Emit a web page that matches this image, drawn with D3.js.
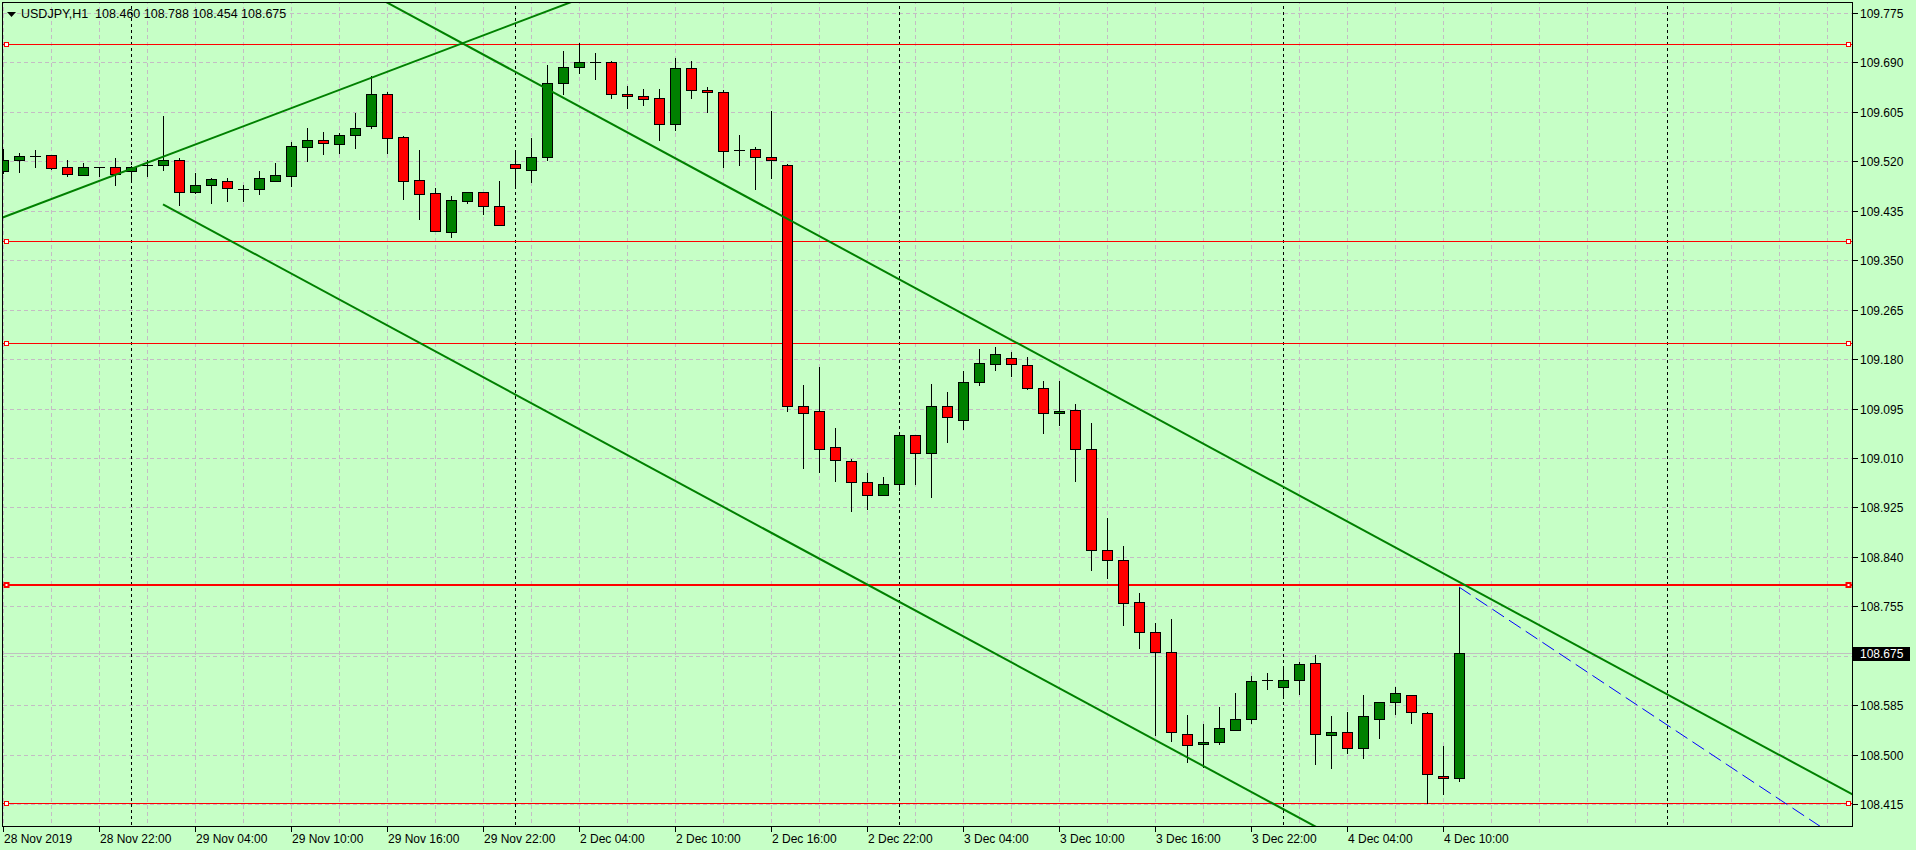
<!DOCTYPE html>
<html><head><meta charset="utf-8">
<script src="https://cdn.jsdelivr.net/npm/d3@7"></script>
<style>html,body{margin:0;padding:0;background:#c6ffc6;overflow:hidden}text{font-family:"Liberation Sans",Arial,sans-serif;font-size:12px;white-space:pre}</style>
</head><body><svg id="c" width="1916" height="850"></svg>
<script>
// ---- data (USDJPY H1, bar index 0 = 28 Nov 2019 16:00) ----
const symbolTitle = "USDJPY,H1";
const opens  = [109.503,109.523,109.529,109.530,109.510,109.496,109.511,109.510,109.503,109.513,
                109.514,109.523,109.468,109.480,109.487,109.472,109.472,109.487,109.495,109.544,
                109.556,109.549,109.565,109.580,109.635,109.561,109.488,109.465,109.398,109.451,
                109.467,109.444,109.515,109.505,109.527,109.654,109.683,109.691,109.690,109.635,
                109.632,109.628,109.584,109.680,109.642,109.639,109.540,109.541,109.527,109.513,
                109.100,109.090,109.028,109.004,108.968,108.947,108.966,109.049,109.018,109.099,
                109.075,109.140,109.171,109.181,109.169,109.131,109.087,109.092,109.025,108.851,
                108.834,108.762,108.710,108.676,108.536,108.518,108.521,108.542,108.561,108.628,
                108.617,108.628,108.657,108.533,108.538,108.512,108.562,108.591,108.603,108.571,
                108.464,108.460];
const highs  = [109.541,109.534,109.539,109.530,109.522,109.517,109.511,109.525,109.512,109.522,
                109.598,109.526,109.500,109.491,109.492,109.479,109.503,109.517,109.553,109.577,
                109.570,109.569,109.603,109.666,109.639,109.564,109.539,109.474,109.460,109.467,
                109.468,109.486,109.536,109.560,109.686,109.710,109.723,109.707,109.692,109.649,
                109.644,109.645,109.698,109.692,109.648,109.642,109.566,109.544,109.607,109.515,
                109.135,109.166,109.061,109.009,108.984,108.978,109.051,109.049,109.137,109.123,
                109.159,109.197,109.200,109.192,109.183,109.143,109.143,109.102,109.070,108.907,
                108.859,108.778,108.727,108.733,108.568,108.553,108.582,108.606,108.635,108.640,
                108.652,108.660,108.672,108.567,108.574,108.602,108.591,108.617,108.603,108.574,
                108.514,108.788];
const lows   = [109.500,109.502,109.511,109.507,109.495,109.496,109.495,109.480,109.490,109.495,
                109.505,109.445,109.465,109.449,109.451,109.452,109.463,109.487,109.478,109.521,
                109.533,109.535,109.543,109.578,109.535,109.456,109.421,109.400,109.390,109.449,
                109.430,109.411,109.478,109.485,109.523,109.635,109.671,109.662,109.629,109.611,
                109.617,109.557,109.574,109.629,109.605,109.511,109.513,109.473,109.492,109.090,
                108.993,108.985,108.971,108.918,108.922,108.947,108.955,108.966,108.943,109.038,
                109.060,109.135,109.162,109.151,109.128,109.053,109.067,108.971,108.818,108.804,
                108.723,108.684,108.534,108.524,108.488,108.478,108.518,108.542,108.555,108.612,
                108.600,108.604,108.483,108.477,108.502,108.494,108.529,108.569,108.555,108.416,
                108.433,108.454];
const closes = [109.522,109.529,109.529,109.509,109.498,109.511,109.511,109.499,109.510,109.514,
                109.522,109.468,109.480,109.489,109.474,109.472,109.491,109.496,109.546,109.556,
                109.551,109.566,109.578,109.635,109.560,109.486,109.463,109.400,109.453,109.467,
                109.444,109.411,109.508,109.527,109.654,109.683,109.690,109.691,109.635,109.632,
                109.627,109.585,109.680,109.642,109.639,109.537,109.540,109.527,109.523,109.100,
                109.087,109.026,109.006,108.968,108.947,108.966,109.049,109.018,109.099,109.080,
                109.140,109.173,109.188,109.171,109.130,109.088,109.091,109.025,108.851,108.834,
                108.760,108.710,108.677,108.538,108.516,108.521,108.545,108.561,108.626,108.628,
                108.628,108.655,108.535,108.538,108.512,108.566,108.591,108.605,108.573,108.466,
                108.460,108.675];
const timeTickIndex  = [0,6,12,18,24,30,36,42,48,54,60,66,72,78,84,90];
const timeTickLabels = ["28 Nov 2019","28 Nov 22:00","29 Nov 04:00","29 Nov 10:00","29 Nov 16:00",
                        "29 Nov 22:00","2 Dec 04:00","2 Dec 10:00","2 Dec 16:00","2 Dec 22:00",
                        "3 Dec 04:00","3 Dec 10:00","3 Dec 16:00","3 Dec 22:00","4 Dec 04:00","4 Dec 10:00"];
const daySeparatorIndex = [8,32,56,80,104];
const priceTickLabels = ["109.775","109.690","109.605","109.520","109.435","109.350","109.265","109.180",
                         "109.095","109.010","108.925","108.840","108.755","108.670","108.585","108.500","108.415"];
const levelPrices = [109.722,109.383,109.207,108.792,108.416];
const levelThick  = [false,false,false,true,false];
// trend lines: [startIndex, startPrice, endIndex, endPrice]
const lineAscending  = [0, 109.4235, 35.36, 109.7922];
const lineUpper      = [24, 109.793, 91, 108.797];
const lineLower      = [10, 109.446, 91, 108.243];
const lineProjection = [91, 108.788, 113, 108.387];
const lastPrice = 108.675;

// ---- drawing ----
const W = 1916, H = 850;
const plotL = 3, plotR = 1852, plotT = 3, plotB = 826;
const svg = d3.select("#c");
svg.append("rect").attr("width", W).attr("height", H).attr("fill", "#c6ffc6");

const x = d3.scaleLinear().domain([0, 115]).range([3, 3 + 16 * 115]);
const y = d3.scaleLinear().domain([109.775, 108.415]).range([13, 804]);
const yc = v => Math.round(y(v)) + 0.5;
const xc = k => Math.round(x(k)) + 0.5;

svg.append("defs").append("clipPath").attr("id", "plot")
  .append("rect").attr("x", plotL).attr("y", plotT).attr("width", plotR - plotL).attr("height", plotB - plotT);

const plot = svg.append("g").attr("clip-path", "url(#plot)");
const gridColor = "#c4bcc4";

// horizontal grid
const priceTicks = priceTickLabels.map(Number);
plot.append("g").selectAll("line").data(priceTicks).join("line")
  .attr("x1", plotL).attr("x2", plotR).attr("y1", d => yc(d)).attr("y2", d => yc(d))
  .attr("stroke", gridColor).attr("stroke-dasharray", "4,3");
// vertical grid every 3 bars
const vgrid = d3.range(0, 116, 3);
plot.append("g").selectAll("line").data(vgrid).join("line")
  .attr("x1", d => xc(d)).attr("x2", d => xc(d)).attr("y1", 0).attr("y2", plotB)
  .attr("stroke", gridColor).attr("stroke-dasharray", "4,3");
// bid line
plot.append("line").attr("x1", plotL).attr("x2", plotR).attr("y1", yc(lastPrice)).attr("y2", yc(lastPrice))
  .attr("stroke", "#c0c0c0");
// day separators
plot.append("g").selectAll("line").data(daySeparatorIndex).join("line")
  .attr("x1", d => xc(d)).attr("x2", d => xc(d)).attr("y1", 0).attr("y2", plotB)
  .attr("stroke", "#000").attr("stroke-dasharray", "3,3");

// horizontal levels
const lv = plot.append("g");
levelPrices.forEach((p, i) => {
  const yy = levelThick[i] ? Math.round(y(p)) : yc(p);
  lv.append("line").attr("x1", plotL).attr("x2", plotR).attr("y1", yy).attr("y2", yy)
    .attr("stroke", "#ff0000").attr("stroke-width", levelThick[i] ? 2 : 1);
});

// candles
const bars = d3.range(opens.length).map(i => ({i, o: opens[i], h: highs[i], l: lows[i], c: closes[i]}));
const cg = plot.append("g");
cg.selectAll("line.w").data(bars).join("line").attr("class", "w")
  .attr("x1", d => xc(d.i)).attr("x2", d => xc(d.i))
  .attr("y1", d => Math.round(y(d.h))).attr("y2", d => Math.round(y(d.l)) + 1)
  .attr("stroke", "#000");
bars.forEach(d => {
  const top = Math.round(y(Math.max(d.o, d.c)));
  const bot = Math.round(y(Math.min(d.o, d.c)));
  const cx = Math.round(x(d.i));
  if (bot - top < 2) {
    cg.append("line").attr("x1", cx - 5).attr("x2", cx + 6).attr("y1", top + 0.5).attr("y2", top + 0.5)
      .attr("stroke", "#000");
  } else {
    cg.append("rect").attr("x", cx - 4.5).attr("y", top + 0.5).attr("width", 10).attr("height", bot - top)
      .attr("fill", d.c >= d.o ? "#008000" : "#ff0000").attr("stroke", "#000");
  }
});

// trend lines
function lineAt(seg, k) { return seg[1] + (seg[3] - seg[1]) * (k - seg[0]) / (seg[2] - seg[0]); }
function drawLine(seg, kFrom, kTo, color, width, dash) {
  const l = plot.append("line")
    .attr("x1", x(kFrom)).attr("y1", y(lineAt(seg, kFrom)))
    .attr("x2", x(kTo)).attr("y2", y(lineAt(seg, kTo)))
    .attr("stroke", color).attr("stroke-width", width);
  if (dash) l.attr("stroke-dasharray", dash);
}
drawLine(lineAscending, -2, 60, "#008000", 2);
drawLine(lineUpper, -2, 120, "#008000", 2);
drawLine(lineLower, lineLower[0], 120, "#008000", 2);
drawLine(lineProjection, lineProjection[0], 120, "#0000ff", 1, "14,6");

// level markers
levelPrices.forEach((p, i) => {
  const yy = Math.round(y(p));
  [4, plotR - 6].forEach(mx => {
    svg.append("rect").attr("x", mx + 0.5).attr("y", yy - 2 + (levelThick[i] ? 0 : 0.5))
      .attr("width", 4).attr("height", 4).attr("fill", "#fff")
      .attr("stroke", "#ff0000").attr("stroke-width", levelThick[i] ? 2 : 1);
  });
});

// frame
svg.append("rect").attr("x", plotL - 0.5).attr("y", plotT - 0.5)
  .attr("width", plotR - plotL + 1).attr("height", plotB - plotT + 1)
  .attr("fill", "none").attr("stroke", "#000");

// price axis
const pa = svg.append("g");
pa.selectAll("line").data(priceTicks).join("line")
  .attr("x1", plotR + 1).attr("x2", plotR + 6).attr("y1", d => yc(d)).attr("y2", d => yc(d)).attr("stroke", "#000");
pa.selectAll("text").data(priceTickLabels).join("text")
  .attr("x", plotR + 8).attr("y", d => Math.round(y(+d)) + 5).attr("fill", "#000").text(d => d);

// last price box
const ly = Math.round(y(lastPrice));
svg.append("rect").attr("x", plotR + 1).attr("y", ly - 6).attr("width", 57).attr("height", 14).attr("fill", "#000");
svg.append("text").attr("x", plotR + 8).attr("y", ly + 5).attr("fill", "#fff").text(lastPrice.toFixed(3));

// time axis
const ta = svg.append("g");
ta.selectAll("line").data(timeTickIndex).join("line")
  .attr("x1", d => xc(d)).attr("x2", d => xc(d)).attr("y1", plotB + 1).attr("y2", plotB + 6).attr("stroke", "#000");
ta.selectAll("text").data(timeTickIndex).join("text")
  .attr("x", d => Math.round(x(d)) + 1).attr("y", 843).attr("fill", "#000")
  .text((d, i) => timeTickLabels[i]);

// header
const last = opens.length - 1;
svg.append("path").attr("d", "M7,12 L16,12 L11.5,17 Z").attr("fill", "#000");
svg.append("text").attr("x", 21).attr("y", 18).attr("fill", "#000").style("font-size", "12.5px")
  .text(`${symbolTitle}  ${opens[last].toFixed(3)} ${highs[last].toFixed(3)} ${lows[last].toFixed(3)} ${closes[last].toFixed(3)}`);
</script></body></html>
